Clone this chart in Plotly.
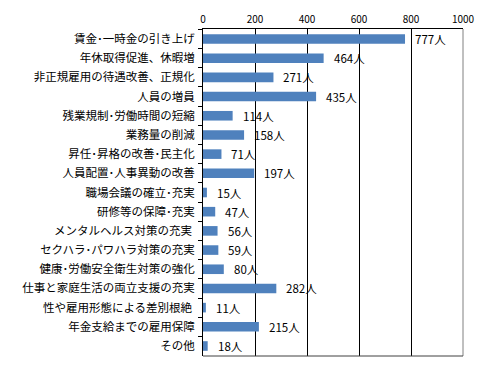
import plotly.graph_objects as go

categories = [
    "賃金･一時金の引き上げ",
    "年休取得促進、休暇増",
    "非正規雇用の待遇改善、正規化",
    "人員の増員",
    "残業規制･労働時間の短縮",
    "業務量の削減",
    "昇任･昇格の改善･民主化",
    "人員配置･人事異動の改善",
    "職場会議の確立･充実",
    "研修等の保障･充実",
    "メンタルヘルス対策の充実\u00a0",
    "セクハラ･パワハラ対策の充実",
    "健康･労働安全衛生対策の強化",
    "仕事と家庭生活の両立支援の充実",
    "性や雇用形態による差別根絶\u00a0",
    "年金支給までの雇用保障",
    "その他",
]
values = [777, 464, 271, 435, 114, 158, 71, 197, 15, 47, 56, 59, 80, 282, 11, 215, 18]
unit = "人"
x_ticks = [0, 200, 400, 600, 800, 1000]

FONT = "MS PGothic, Noto Sans CJK JP, sans-serif"

fig = go.Figure()
fig.add_trace(go.Bar(
    x=values,
    y=categories,
    orientation="h",
    marker=dict(color="#4F81BD", line=dict(width=0)),
    width=0.5,
    hoverinfo="skip",
))

for c, v in zip(categories, values):
    fig.add_annotation(
        x=v, y=c, xref="x", yref="y",
        text=f"{v}{unit}", showarrow=False,
        xanchor="left", xshift=8,
        font=dict(family=FONT, size=11.5, color="black"),
    )

# gray right and bottom border
fig.add_shape(type="line", xref="paper", yref="paper", x0=1, x1=1, y0=0, y1=1,
              line=dict(color="#808080", width=1))
fig.add_shape(type="line", xref="paper", yref="paper", x0=0, x1=1, y0=0, y1=0,
              line=dict(color="#404040", width=1))

# page body has an 8px default margin, so the figure is sized to fit the window
fig.update_layout(
    width=480, height=362,
    margin=dict(l=195, r=25, t=21, b=14, autoexpand=False),
    paper_bgcolor="white", plot_bgcolor="white",
    showlegend=False,
    font=dict(family=FONT, color="black"),
    xaxis=dict(
        side="top", range=[0, 1000], tickvals=x_ticks,
        showgrid=True, gridcolor="black", gridwidth=1,
        showline=True, linecolor="black", linewidth=1,
        zeroline=False, ticks="", tickfont=dict(size=10, family=FONT),
        ticklabelstandoff=1,
        automargin=False, fixedrange=True,
    ),
    yaxis=dict(
        autorange="reversed", type="category",
        showline=True, linecolor="black", linewidth=1,
        ticks="outside", tickson="boundaries", ticklen=4, tickcolor="black",
        showgrid=False, tickfont=dict(size=11.5, family=FONT),
        ticklabelstandoff=5,
        automargin=False, fixedrange=True,
    ),
)

fig.write_html("out.html")
